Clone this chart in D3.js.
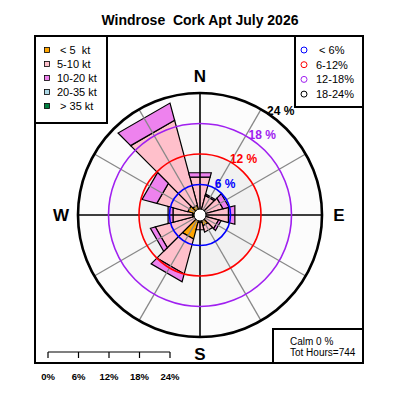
<!DOCTYPE html>
<html>
<head>
<meta charset="utf-8">
<script src="https://cdn.jsdelivr.net/npm/d3@7.9.0/dist/d3.min.js"></script>
<style>
  html, body { margin: 0; padding: 0; background: #fff; }
  svg { display: block; font-family: "Liberation Sans", Arial, Helvetica, sans-serif; }
  text { white-space: pre; }
</style>
</head>
<body>
<div id="chart"></div>
<script>
// wind directions (deg) and % of hours per speed class
const directions = [0, 30, 60, 90, 120, 150, 180, 210, 240, 270, 300, 330];
const speedLt5   = [0.8, 0.5, 0.5, 0.6, 0.5, 2.2, 1.5, 4.9, 1.0, 1.5, 2.5, 2.0];
const speed5_10  = [6.9, 3.5, 4.2, 5.2, 3.3, 1.3, 1.5, 7.1, 8.1, 4.0, 6.3, 17.3];
const speed10_20 = [0.9, 0.3, 1.2, 1.3, 0.5, 0.0, 0.0, 1.6, 1.0, 1.0, 3.0, 3.5];
const speed20_35 = [0, 0, 0, 0, 0, 0, 0, 0, 0, 0, 0, 0];
const speedGt35  = [0, 0, 0, 0, 0, 0, 0, 0, 0, 0, 0, 0];

const speedLabels = [" < 5  kt", "5-10 kt", "10-20 kt", "20-35 kt", " > 35 kt"];
const speedColors = ["#ffa500", "#ffc0cb", "#ee82ee", "#add8e6", "#008040"];

const rings = [6, 12, 18, 24];
const ringLabels = [" < 6%", "6-12%", "12-18%", "18-24%"];
const ringColors = ["#0000ff", "#ff0000", "#a020f0", "#000000"];
const ringFills = ["#efefef", "#f1f1f1", "#f8f8f8", "#fcfcfc"];

const compass = [["N", 0], ["E", 90], ["S", 180], ["W", 270]];
const title = "Windrose  Cork Apt July 2026";
const calmPct = 0;
const totHours = 744;

const width = 400, height = 400;
const cx = 200, cy = 215;
const halfWidth = 15;

const r = d3.scaleLinear().domain([0, 24]).range([0, 122]);

// polar -> screen, compass angle in degrees
function pt(rad, deg) {
  const a = deg * Math.PI / 180;
  return [cx + rad * Math.sin(a), cy - rad * Math.cos(a)];
}

const svg = d3.select('#chart')
  .append('svg')
  .attr('width', width)
  .attr('height', height);

svg.append('rect').attr('width', width).attr('height', height).attr('fill', '#fff');

// title
svg.append('text')
  .attr('x', 200).attr('y', 25)
  .attr('text-anchor', 'middle')
  .attr('font-size', 14).attr('font-weight', 'bold')
  .text(title);

// shaded rings, outer first
const bg = svg.append('g');
rings.slice().reverse().forEach((v, i) => {
  bg.append('circle')
    .attr('cx', cx).attr('cy', cy).attr('r', r(v))
    .attr('fill', ringFills[rings.length - 1 - i]);
});

// stacked wedges
const table = directions.map((d, i) => ({
  dir: d,
  s0: speedLt5[i], s1: speed5_10[i], s2: speed10_20[i], s3: speed20_35[i], s4: speedGt35[i]
}));
const keys = ['s0', 's1', 's2', 's3', 's4'];
const series = d3.stack().keys(keys)(table);

const wedge = d3.line();
const bars = svg.append('g');
series.forEach((s, k) => {
  bars.selectAll(null)
    .data(s.filter(d => d[1] > d[0]))
    .join('path')
    .attr('d', d => {
      const a = d.data.dir;
      return wedge([
        pt(r(d[0]), a - halfWidth),
        pt(r(d[1]), a - halfWidth),
        pt(r(d[1]), a + halfWidth),
        pt(r(d[0]), a + halfWidth)
      ]) + 'Z';
    })
    .attr('fill', speedColors[k])
    .attr('stroke', '#000')
    .attr('stroke-width', 1.2)
    .attr('stroke-linejoin', 'miter');
});

// spokes
const spokes = svg.append('g');
directions.forEach(d => {
  const main = d % 90 === 0;
  const [x1, y1] = pt(r(24), d);
  spokes.append('line')
    .attr('x1', cx).attr('y1', cy).attr('x2', x1).attr('y2', y1)
    .attr('stroke', main ? '#000' : '#888')
    .attr('stroke-width', main ? 1.6 : 1.3);
});

// ring outlines
rings.forEach((v, i) => {
  svg.append('circle')
    .attr('cx', cx).attr('cy', cy).attr('r', r(v))
    .attr('fill', 'none')
    .attr('stroke', ringColors[i])
    .attr('stroke-width', i === rings.length - 1 ? 2.6 : 1.6);
});

// calm circle
svg.append('circle')
  .attr('cx', cx).attr('cy', cy).attr('r', 6)
  .attr('fill', '#fff').attr('stroke', '#000').attr('stroke-width', 1);

// ring labels
rings.forEach((v, i) => {
  const [x, y] = pt(r(v) + 9, 37.5);
  svg.append('text')
    .attr('x', x + 1).attr('y', y + 4)
    .attr('text-anchor', 'middle')
    .attr('font-size', 12).attr('font-weight', 'bold')
    .attr('fill', ringColors[i])
    .text(v + ' %');
});

// compass letters
compass.forEach(([lab, deg]) => {
  const [x, y] = pt(r(24) + 17, deg);
  svg.append('text')
    .attr('x', x).attr('y', y + 6)
    .attr('text-anchor', 'middle')
    .attr('font-size', 17).attr('font-weight', 'bold')
    .text(lab);
});

// frame
svg.append('rect')
  .attr('x', 35).attr('y', 36).attr('width', 328).attr('height', 327)
  .attr('fill', 'none').attr('stroke', '#000').attr('stroke-width', 2);

// speed legend
const leg1 = svg.append('g');
leg1.append('rect')
  .attr('x', 35).attr('y', 36).attr('width', 72).attr('height', 87)
  .attr('fill', '#fff').attr('stroke', '#000').attr('stroke-width', 2);
speedLabels.forEach((lab, i) => {
  const y = 50 + i * 14;
  leg1.append('rect')
    .attr('x', 44.5).attr('y', y - 2.5).attr('width', 5).attr('height', 5)
    .attr('fill', speedColors[i]).attr('stroke', '#000').attr('stroke-width', 0.8);
  leg1.append('text')
    .attr('x', 57).attr('y', y + 4)
    .attr('font-size', 11)
    .text(lab);
});

// ring legend
const leg2 = svg.append('g');
leg2.append('rect')
  .attr('x', 295).attr('y', 36).attr('width', 68).attr('height', 71)
  .attr('fill', '#fff').attr('stroke', '#000').attr('stroke-width', 2);
ringLabels.forEach((lab, i) => {
  const y = 50 + i * 14.7;
  leg2.append('circle')
    .attr('cx', 304).attr('cy', y).attr('r', 3)
    .attr('fill', 'none').attr('stroke', ringColors[i]).attr('stroke-width', 1);
  leg2.append('text')
    .attr('x', 316).attr('y', y + 4)
    .attr('font-size', 11)
    .text(lab);
});

// calm box
const calm = svg.append('g');
calm.append('rect')
  .attr('x', 273).attr('y', 329).attr('width', 90).attr('height', 34)
  .attr('fill', '#fff').attr('stroke', '#000').attr('stroke-width', 2);
calm.append('text').attr('x', 290).attr('y', 345).attr('font-size', 10)
  .text('Calm ' + calmPct + ' %');
calm.append('text').attr('x', 290).attr('y', 356).attr('font-size', 10)
  .text('Tot Hours=' + totHours);

// distance scale bar
const sx = d3.scaleLinear().domain([0, 24]).range([48, 48 + r(24)]);
const bar = svg.append('g');
bar.append('line')
  .attr('x1', sx(0)).attr('x2', sx(24)).attr('y1', 352).attr('y2', 352)
  .attr('stroke', '#000').attr('stroke-width', 1.2);
[0].concat(rings).forEach(v => {
  bar.append('line')
    .attr('x1', sx(v)).attr('x2', sx(v)).attr('y1', 352).attr('y2', 358)
    .attr('stroke', '#000').attr('stroke-width', 1.2);
  bar.append('text')
    .attr('x', sx(v)).attr('y', 380)
    .attr('text-anchor', 'middle')
    .attr('font-size', 9.5).attr('font-weight', 'bold')
    .text(v + '%');
});
</script>
</body>
</html>
